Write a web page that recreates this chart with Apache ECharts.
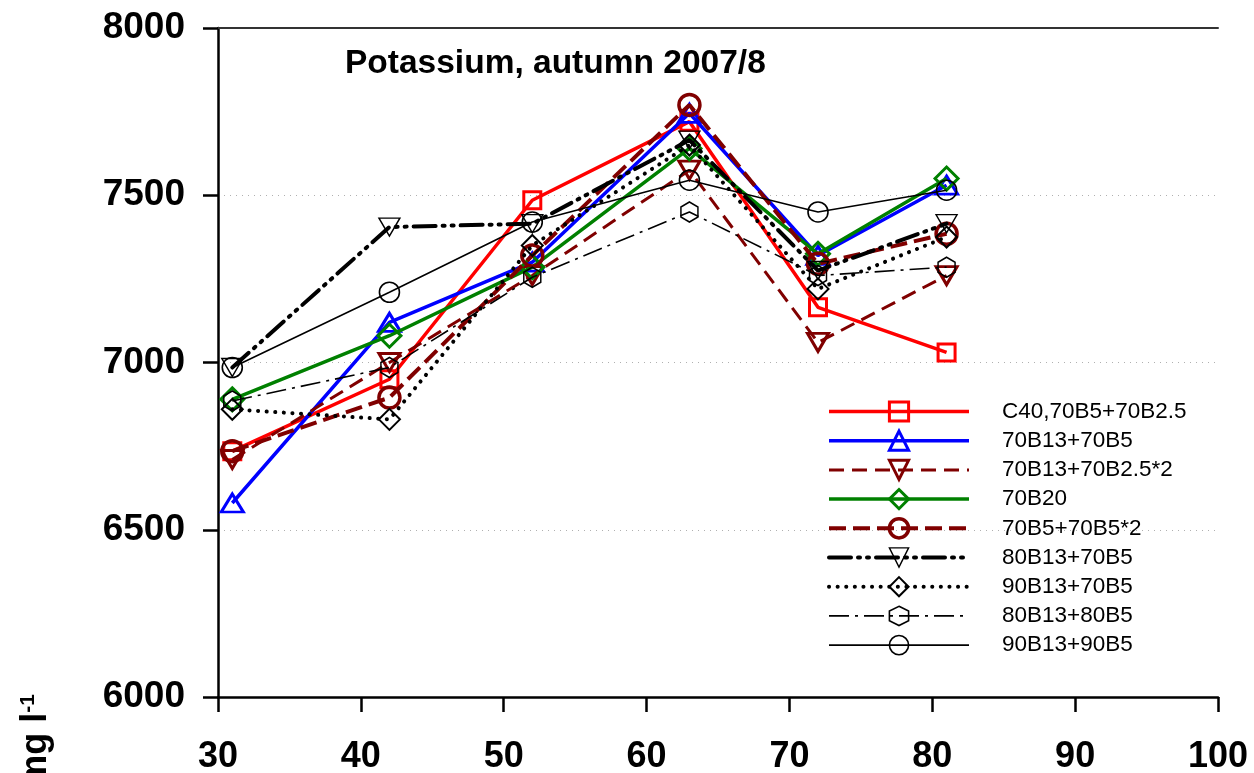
<!DOCTYPE html>
<html>
<head>
<meta charset="utf-8">
<script src="https://cdn.jsdelivr.net/npm/echarts@6/dist/echarts.min.js"></script>
<style>
html,body{margin:0;padding:0;background:#fff;overflow:hidden;}
#chart{width:1254px;height:773px;}
</style>
</head>
<body>
<div id="chart"></div>
<script>
// ---- data ----
const xValues = [31, 42, 52, 63, 72, 81];
const seriesNames = ['C40,70B5+70B2.5', '70B13+70B5', '70B13+70B2.5*2', '70B20', '70B5+70B5*2', '80B13+70B5', '90B13+70B5', '80B13+80B5', '90B13+90B5'];
const sC40 = [6735, 6950, 7485, 7720, 7165, 7030];
const s70B13_70B5 = [6580, 7120, 7300, 7745, 7320, 7530];
const s70B13_70B25x2 = [6710, 7000, 7260, 7575, 7060, 7260];
const s70B20 = [6890, 7080, 7285, 7640, 7325, 7550];
const s70B5_70B5x2 = [6735, 6895, 7320, 7770, 7295, 7385];
const s80B13_70B5 = [6985, 7405, 7415, 7665, 7275, 7415];
const s90B13_70B5 = [6860, 6830, 7350, 7650, 7220, 7375];
const s80B13_80B5 = [6885, 6985, 7255, 7450, 7260, 7285];
const s90B13_90B5 = [6985, 7210, 7420, 7545, 7450, 7515];
const xTicks = [30, 40, 50, 60, 70, 80, 90, 100];
const yTicks = [6000, 6500, 7000, 7500, 8000];
const titleText = 'Potassium, autumn 2007/8';

const allValues = [sC40, s70B13_70B5, s70B13_70B25x2, s70B20, s70B5_70B5x2, s80B13_70B5, s90B13_70B5, s80B13_80B5, s90B13_90B5];

// ---- styles ----
const HEX = 'path://M5,0 L10,2.9 L10,8.7 L5,11.6 L0,8.7 L0,2.9 Z';
const TRI_DOWN = 'path://M0,0 L10,0 L5,8.66 Z';
const TRI_UP = 'path://M5,0 L10,8.66 L0,8.66 Z';
const FONT = 'Liberation Sans, Arial, sans-serif';
const styles = [
  {color: '#ff0000', width: 3.5, type: 'solid', symbol: 'rect', size: 17, bw: 3},
  {color: '#0000ff', width: 3.5, type: 'solid', symbol: TRI_UP, size: [22, 18], bw: 3},
  {color: '#800000', width: 3, type: [15, 8], symbol: TRI_DOWN, size: [21, 18], bw: 3},
  {color: '#008000', width: 3.5, type: 'solid', symbol: 'diamond', size: [23, 23], bw: 3},
  {color: '#800000', width: 4, type: [17, 7], symbol: 'circle', size: 21, bw: 3.5},
  {color: '#000000', width: 4, type: [22, 7, 2, 7, 2, 7], symbol: TRI_DOWN, size: [21, 18], bw: 1.4, cap: 'round'},
  {color: '#000000', width: 4, type: [0.1, 8.5], symbol: 'diamond', size: [21, 21], bw: 2, cap: 'round'},
  {color: '#000000', width: 1.6, type: [20, 6, 3, 6], symbol: HEX, size: [17, 20], bw: 1.6},
  {color: '#000000', width: 1.6, type: 'solid', symbol: 'circle', size: 20, bw: 1.6}
];

const series = allValues.map(function (vals, i) {
  const st = styles[i];
  return {
    name: seriesNames[i],
    type: 'line',
    data: xValues.map(function (x, j) { return [x, vals[j]]; }),
    symbol: st.symbol,
    symbolSize: st.size,
    symbolKeepAspect: false,
    showAllSymbol: true,
    lineStyle: {color: st.color, width: st.width, type: st.type, cap: st.cap || 'butt'},
    itemStyle: {color: 'rgba(0,0,0,0)', borderColor: st.color, borderWidth: st.bw},
    emphasis: {disabled: true},
    z: 3 + i
  };
});

const chart = echarts.init(document.getElementById('chart'), null, {renderer: 'canvas'});
chart.setOption({
  animation: false,
  backgroundColor: '#ffffff',
  title: {
    text: titleText,
    left: 345,
    top: 47,
    padding: 0,
    textStyle: {fontFamily: FONT, fontWeight: 'bold', fontSize: 33.5, color: '#000'}
  },
  grid: {left: 218, right: 36, top: 28, bottom: 76, containLabel: false, outerBoundsMode: 'none'},
  legend: {
    orient: 'vertical',
    left: 827,
    top: 400,
    padding: 0,
    itemWidth: 140,
    itemHeight: 24,
    itemGap: 6.2,
    selectedMode: false,
    data: seriesNames,
    lineStyle: {width: 'inherit', type: 'inherit', cap: 'inherit'},
    itemStyle: {borderWidth: 'inherit'},
    textStyle: {fontFamily: FONT, fontSize: 22.5, color: '#000', padding: [0, 0, 0, 28]}
  },
  xAxis: [{
    type: 'value',
    min: xTicks[0],
    max: xTicks[xTicks.length - 1],
    interval: 10,
    axisLine: {show: true, onZero: false, lineStyle: {color: '#000', width: 2.5}},
    axisTick: {show: true, inside: false, length: 15, lineStyle: {color: '#000', width: 2.5}},
    axisLabel: {margin: 42, fontFamily: FONT, fontWeight: 'bold', fontSize: 36, color: '#000'},
    splitLine: {show: false}
  }, {
    type: 'value',
    position: 'top',
    min: xTicks[0],
    max: xTicks[xTicks.length - 1],
    axisLine: {show: true, onZero: false, lineStyle: {color: '#333', width: 2}},
    axisTick: {show: false},
    axisLabel: {show: false},
    splitLine: {show: false}
  }],
  yAxis: {
    type: 'value',
    min: yTicks[0],
    max: yTicks[yTicks.length - 1],
    interval: 500,
    axisLine: {show: true, onZero: false, lineStyle: {color: '#000', width: 2.5}},
    axisTick: {show: true, inside: false, length: 15, lineStyle: {color: '#000', width: 2.5}},
    axisLabel: {margin: 33, fontFamily: FONT, fontWeight: 'bold', fontSize: 37, color: '#000',
      formatter: function (v) { return String(v); }},
    splitLine: {show: true, lineStyle: {color: '#b0b0b0', width: 1, type: [1, 5]}}
  },
  graphic: [{
    type: 'text',
    x: 36,
    y: 694,
    rotation: Math.PI / 2,
    style: {
      text: '{a|mg l}{s|-1}',
      align: 'right',
      verticalAlign: 'middle',
      fill: '#000',
      rich: {
        a: {fontFamily: FONT, fontWeight: 'bold', fontSize: 36, fill: '#000'},
        s: {fontFamily: FONT, fontWeight: 'bold', fontSize: 21, fill: '#000', verticalAlign: 'top'}
      }
    }
  }],
  series: series
});
</script>
</body>
</html>
